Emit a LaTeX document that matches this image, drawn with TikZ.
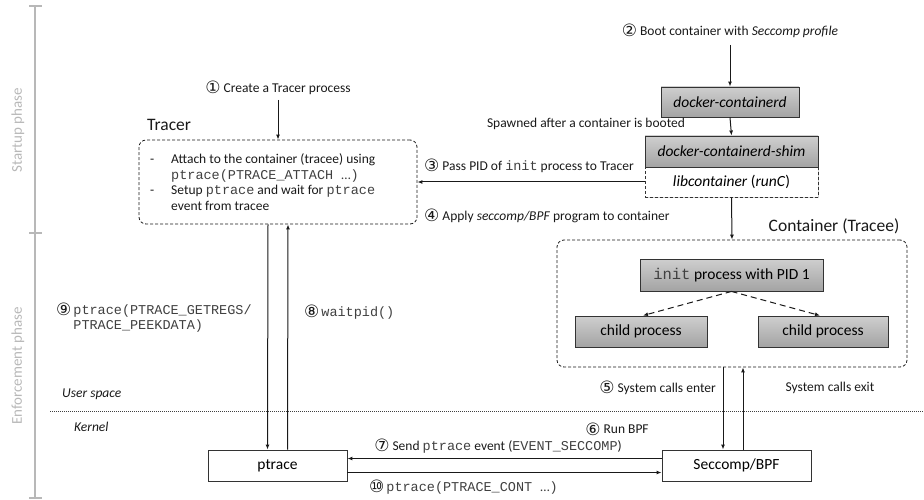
\documentclass[tikz,border=0pt]{standalone}
\usepackage{fontspec}
\setmainfont{Carlito}
\setmonofont{Liberation Mono}
\newfontfamily\dvfont{DejaVu Sans}
\usetikzlibrary{arrows.meta,shadows,calc}
\newcommand{\cn}[1]{\raisebox{-1.6pt}{\dvfont\fontsize{17}{17}\selectfont #1}}
\newcommand{\mono}[1]{{\ttfamily\color{black!75}#1}}
\begin{document}
\begin{tikzpicture}[x=1pt,y=-1pt,
  base/.style={font=\fontsize{13.5}{15.7}\selectfont, text=black!90, inner sep=0pt},
  arr/.style={-{Latex[length=5pt,width=4pt]}, line width=1pt, draw=black!90},
  dasharr/.style={-{Latex[length=5pt,width=4pt]}, line width=1pt, draw=black!90, dash pattern=on 6pt off 4pt},
  boxshadow/.style={drop shadow={opacity=0.35,shadow xshift=1.2pt,shadow yshift=-1.2pt}},
  graybox/.style={draw=black!80, line width=0.9pt, top color=gray!38, bottom color=gray!72, font=\fontsize{15.5}{18}\selectfont, text=black, inner sep=0pt, boxshadow},
  whitebox/.style={draw=black!80, line width=0.9pt, fill=white, font=\fontsize{15.5}{18}\selectfont, text=black, inner sep=0pt, boxshadow},
  dashbox/.style={draw=black!90, dash pattern=on 3pt off 2pt, rounded corners=7pt, line width=0.8pt},
  title/.style={font=\fontsize{17.5}{20}\selectfont, text=black!90, inner sep=0pt},
  phase/.style={font=\fontsize{15}{18}\selectfont, text=black!28, rotate=90, inner sep=0pt},
  phasebar/.style={draw=black!28, line width=1.2pt}
]
\useasboundingbox (0,0) rectangle (924,500);

% phase bar
\draw[phasebar] (35,6) -- (35,498);
\draw[phasebar] (29,6) -- (42,6);
\draw[phasebar] (29,233) -- (42,233);
\draw[phasebar] (29,498) -- (42,498);
\node[phase] (startup) at (18,130) {Startup phase};
\node[phase] (enforce) at (18,366) {Enforcement phase};

% user/kernel separator
\draw[black!75, line width=0.7pt, dash pattern=on 1pt off 1pt] (50,411) -- (924,411);
\node[base, anchor=west, font=\fontsize{13.5}{16}\selectfont\itshape] (us) at (62,394) {User space};
\node[base, anchor=west, font=\fontsize{13.5}{16}\selectfont\itshape] (kn) at (74,427) {Kernel};

% Tracer
\node[title, anchor=west] (tracertitle) at (147,125) {Tracer};
\node[dashbox, minimum width=278pt, minimum height=84pt] (tracer) at (278,182) {};
\node[base, anchor=west] (tracertext) at (150,184) {%
\begin{tabular}{@{}p{21pt}@{}l@{}}
- & Attach to the container (tracee) using\\
  & \mono{ptrace(PTRACE\_ATTACH {\rmfamily …})}\\
- & Setup \mono{ptrace} and wait for \mono{ptrace}\\
  & event from tracee
\end{tabular}};
\coordinate (c1) at (278,100);
\node[base] (l1) at (278,88) {\cn{①} Create a Tracer process};
\draw[arr] (c1) -- (tracer.north);

% docker boxes
\node[whitebox, draw=black!80, dash pattern=on 3pt off 2pt, minimum width=173pt, minimum height=30pt, drop shadow={opacity=0}] (lib) at (731.5,182) {\itshape libcontainer\/ \upshape(\itshape runC\/\upshape)};
\node[graybox, minimum width=138pt, minimum height=30pt] (cd) at (730,102) {\itshape docker-containerd};
\node[graybox, minimum width=173pt, minimum height=31pt] (shim) at (731.5,151.5) {\itshape docker-containerd-shim};
\coordinate (c2) at (730,45);
\node[base] (l2) at (730,31) {\cn{②} Boot container with \textit{Seccomp profile}};
\draw[arr] (c2) -- (cd.north);
\draw[arr] (cd.south) -- (shim.north);
\node[base] (spawn) at (586,124) {Spawned after a container is booted};
\draw[arr] (lib.west) -- (tracer.east);
\node[base, anchor=west] (l3) at (424,166) {\cn{③} Pass PID of \mono{init} process to Tracer};
\node[base, anchor=west] (l4) at (424,216) {\cn{④} Apply \textit{seccomp/BPF} program to container};

% Container
\node[title] (conttitle) at (834,226) {Container (Tracee)};
\node[dashbox, minimum width=350pt, minimum height=127pt] (cont) at (732,303.5) {};
\draw[arr] (lib.south) -- (cont.north);
\node[graybox, minimum width=183pt, minimum height=32pt] (init) at (731.5,275) {\mono{init} process with PID 1};
\node[graybox, minimum width=132pt, minimum height=31pt] (chl) at (641,331.5) {child process};
\node[graybox, minimum width=130pt, minimum height=31pt] (chr) at (823,331.5) {child process};
\draw[dasharr] (init.south) -- ([xshift=2pt]chl.north);
\draw[dasharr] (init.south) -- ([xshift=-3pt]chr.north);

% kernel boxes
\node[whitebox, minimum width=139pt, minimum height=31pt] (ptr) at (277.5,465.5) {ptrace};
\node[whitebox, minimum width=149pt, minimum height=31pt] (sec) at (736.5,465.5) {Seccomp/BPF};

% tracer <-> ptrace
\draw[arr] ([xshift=-10pt]tracer.south) -- ([xshift=-10pt]ptr.north);
\draw[arr] ([xshift=10pt]ptr.north) -- ([xshift=10pt]tracer.south);
\node[base, anchor=west] (l9) at (56,319) {%
\begin{tabular}{@{}l@{\hspace{2pt}}l@{}}
\cn{⑨} & \mono{ptrace(PTRACE\_GETREGS/}\\
 & \mono{PTRACE\_PEEKDATA)}
\end{tabular}};
\node[base, anchor=west] (l8) at (304,312) {\cn{⑧}\hspace{2pt}\mono{waitpid()}};

% container <-> seccomp
\coordinate (s1) at (723,0);
\coordinate (s2) at (743,0);
\draw[arr] (cont.south -| s1) -- (sec.north -| s1);
\draw[arr] (sec.north -| s2) -- (cont.south -| s2);
\node[base, anchor=east] (l5) at (716,388) {\cn{⑤} System calls enter};
\node[base] (exit) at (830,388) {System calls exit};
\node[base] (l6) at (617,429) {\cn{⑥} Run BPF};

% seccomp <-> ptrace
\draw[arr] ([yshift=7pt]sec.west) -- ([yshift=7pt]ptr.east);
\draw[arr] ([yshift=-7pt]ptr.east) -- ([yshift=-7pt]sec.west);
\node[base] (l7) at (498,446) {\cn{⑦} Send \mono{ptrace} event (\mono{EVENT\_SECCOMP})};
\node[base, anchor=west] (l10) at (369,487) {\cn{⑩}\hspace{2pt}\mono{ptrace(PTRACE\_CONT {\rmfamily …})}};
\end{tikzpicture}
\end{document}
